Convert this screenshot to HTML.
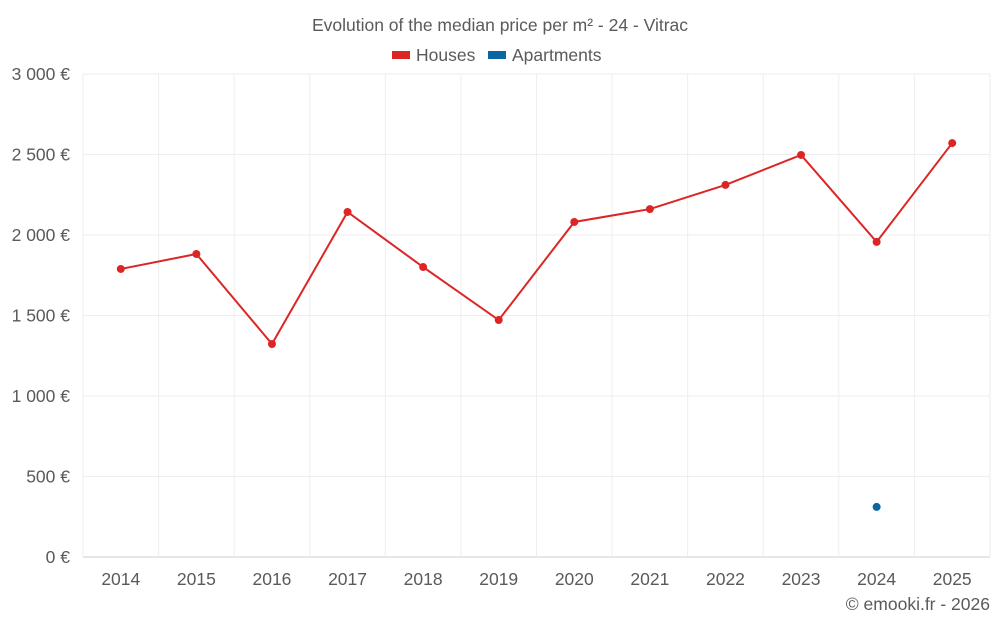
<!DOCTYPE html>
<html><head><meta charset="utf-8"><style>
body{margin:0;background:#fff;font-family:"Liberation Sans",sans-serif;}
svg text{font-family:"Liberation Sans",sans-serif;fill:#5a5a5a;}
</style></head><body>
<svg id="chart" width="1000" height="625" xmlns="http://www.w3.org/2000/svg">
<text x="500" y="31" text-anchor="middle" font-size="17.5">Evolution of the median price per m² - 24 - Vitrac</text>
<g>
<g><rect x="392" y="51" width="18" height="8" fill="#dc2626"/><text x="416" y="61" font-size="17.5">Houses</text></g>
<g><rect x="488" y="51" width="18" height="8" fill="#0a66a0"/><text x="512" y="61" font-size="17.5">Apartments</text></g>
</g>
<g id="grid"></g><g id="axes"></g><g id="marks"></g>
<text x="990" y="610" text-anchor="end" font-size="17.5">© emooki.fr - 2026</text>
</svg>
<script>
const years=[2014,2015,2016,2017,2018,2019,2020,2021,2022,2023,2024,2025];
const houses=[1789,1882,1323,2143,1801,1472,2081,2161,2311,2497,1957,2571];
const apartments=[null,null,null,null,null,null,null,null,null,null,311,null];
const yTicks=[0,500,1000,1500,2000,2500,3000];
const yTickLabels=["0 €","500 €","1 000 €","1 500 €","2 000 €","2 500 €","3 000 €"];
const L=83,R=990,T=74,B=557,NS="http://www.w3.org/2000/svg";
const bw=(R-L)/years.length;
function x(i){return L+bw*(i+0.5);}
function y(v){return B-(v/3000)*(B-T);}
function mk(tag,attrs,parent){const e=document.createElementNS(NS,tag);for(const k in attrs)e.setAttribute(k,attrs[k]);document.getElementById(parent).appendChild(e);return e;}
yTicks.forEach((t,i)=>{
  const g=mk('line',{x1:L,x2:R,y1:y(t),y2:y(t),stroke:i==0?'#ccc':'#eee'},'grid');
  
  
  const tx=mk('text',{x:70,y:y(t)+6,'text-anchor':'end','font-size':17.5},'axes');
  tx.textContent=yTickLabels[i];
  
  
});
for(let i=0;i<=years.length;i++){
  const v=mk('line',{x1:L+bw*i,x2:L+bw*i,y1:T,y2:B,stroke:'#eee'},'grid');
  
  
}
years.forEach((yr,i)=>{
  const tx=mk('text',{x:x(i),y:585,'text-anchor':'middle','font-size':17.5},'axes');
  tx.textContent=yr;
  
  
});
const p=mk('polyline',{points:houses.map((v,i)=>x(i)+','+y(v)).join(' '),fill:'none',stroke:'#dc2626','stroke-width':2},'marks');


houses.forEach((v,i)=>{
  const c=mk('circle',{cx:x(i),cy:y(v),r:4,fill:'#dc2626'},'marks');
  
  
});
apartments.forEach((v,i)=>{
  if(v==null)return;
  const c=mk('circle',{cx:x(i),cy:y(v),r:4,fill:'#0a66a0'},'marks');
  
  
});
</script>
</body></html>
